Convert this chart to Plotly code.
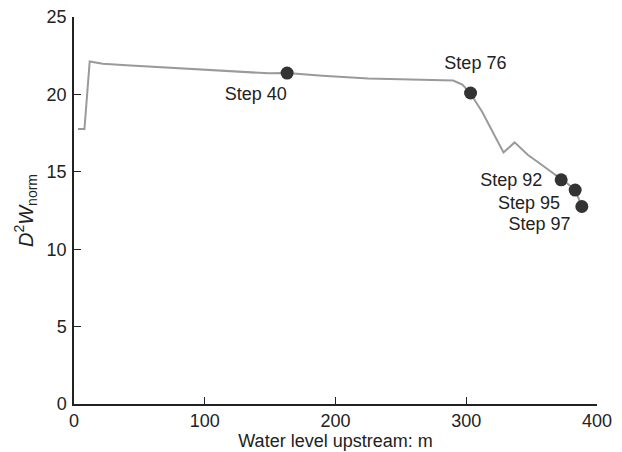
import plotly.graph_objects as go

# Line data (water level upstream in m, D^2 W_norm)
line_x = [3, 8, 12, 22, 40, 60, 80, 100, 120, 149, 163, 190, 225, 260, 290, 297, 303, 312, 321, 328.5, 337, 347, 356, 365, 372.6, 378, 383.3, 386, 388.4]
line_y = [17.76, 17.76, 22.13, 21.98, 21.88, 21.78, 21.68, 21.6, 21.52, 21.36, 21.38, 21.2, 21.02, 20.98, 20.9, 20.63, 20.09, 18.9, 17.5, 16.25, 16.9, 16.1, 15.55, 15.0, 14.48, 14.2, 13.82, 13.3, 12.76]

# Marked steps
step_x = [163, 303.3, 372.6, 383.3, 388.4]
step_y = [21.38, 20.09, 14.48, 13.82, 12.76]
step_labels = ["Step 40", "Step 76", "Step 92", "Step 95", "Step 97"]
label_x = [139, 307, 334.5, 348, 356]
label_y = [19.9, 21.9, 14.4, 12.9, 11.5]

x_ticks = [0, 100, 200, 300, 400]
y_ticks = [0, 5, 10, 15, 20, 25]

fig = go.Figure()
fig.add_trace(go.Scatter(x=line_x, y=line_y, mode="lines",
                         line=dict(color="#9a9a9a", width=2), showlegend=False,
                         hoverinfo="skip"))
fig.add_trace(go.Scatter(x=step_x, y=step_y, mode="markers",
                         marker=dict(color="#333333", size=13), showlegend=False))
fig.add_trace(go.Scatter(x=label_x, y=label_y, mode="text", text=step_labels,
                         textfont=dict(size=18, color="#222222",
                                       family="Liberation Sans, Arial, sans-serif"),
                         showlegend=False, hoverinfo="skip"))

# page has an 8px body margin, so the figure is sized/offset to compensate
fig.update_layout(
    width=614, height=444,
    margin=dict(l=66, r=25, t=9, b=48, autoexpand=False),
    plot_bgcolor="white", paper_bgcolor="white",
    font=dict(family="Liberation Sans, Arial, sans-serif", size=18, color="#222222"),
    xaxis=dict(range=[0, 400], tickvals=x_ticks, showline=True, linecolor="#222222",
               linewidth=1.5, ticks="inside", ticklen=7, tickcolor="#222222",
               ticklabeloverflow="allow",
               showgrid=False, zeroline=False, automargin=False,
               title=dict(text="Water level upstream: m", standoff=4,
                          font=dict(size=18))),
    yaxis=dict(range=[0, 25], tickvals=y_ticks, showline=True, linecolor="#222222",
               linewidth=1.5, ticks="inside", ticklen=7, tickcolor="#222222",
               ticklabelstandoff=2, ticklabeloverflow="allow",
               showgrid=False, zeroline=False, automargin=False,
               title=dict(text="<i>D</i><sup>2</sup><i>W</i><sub>norm</sub>",
                          standoff=8, font=dict(size=20))),
)

fig.write_html("out.html")
